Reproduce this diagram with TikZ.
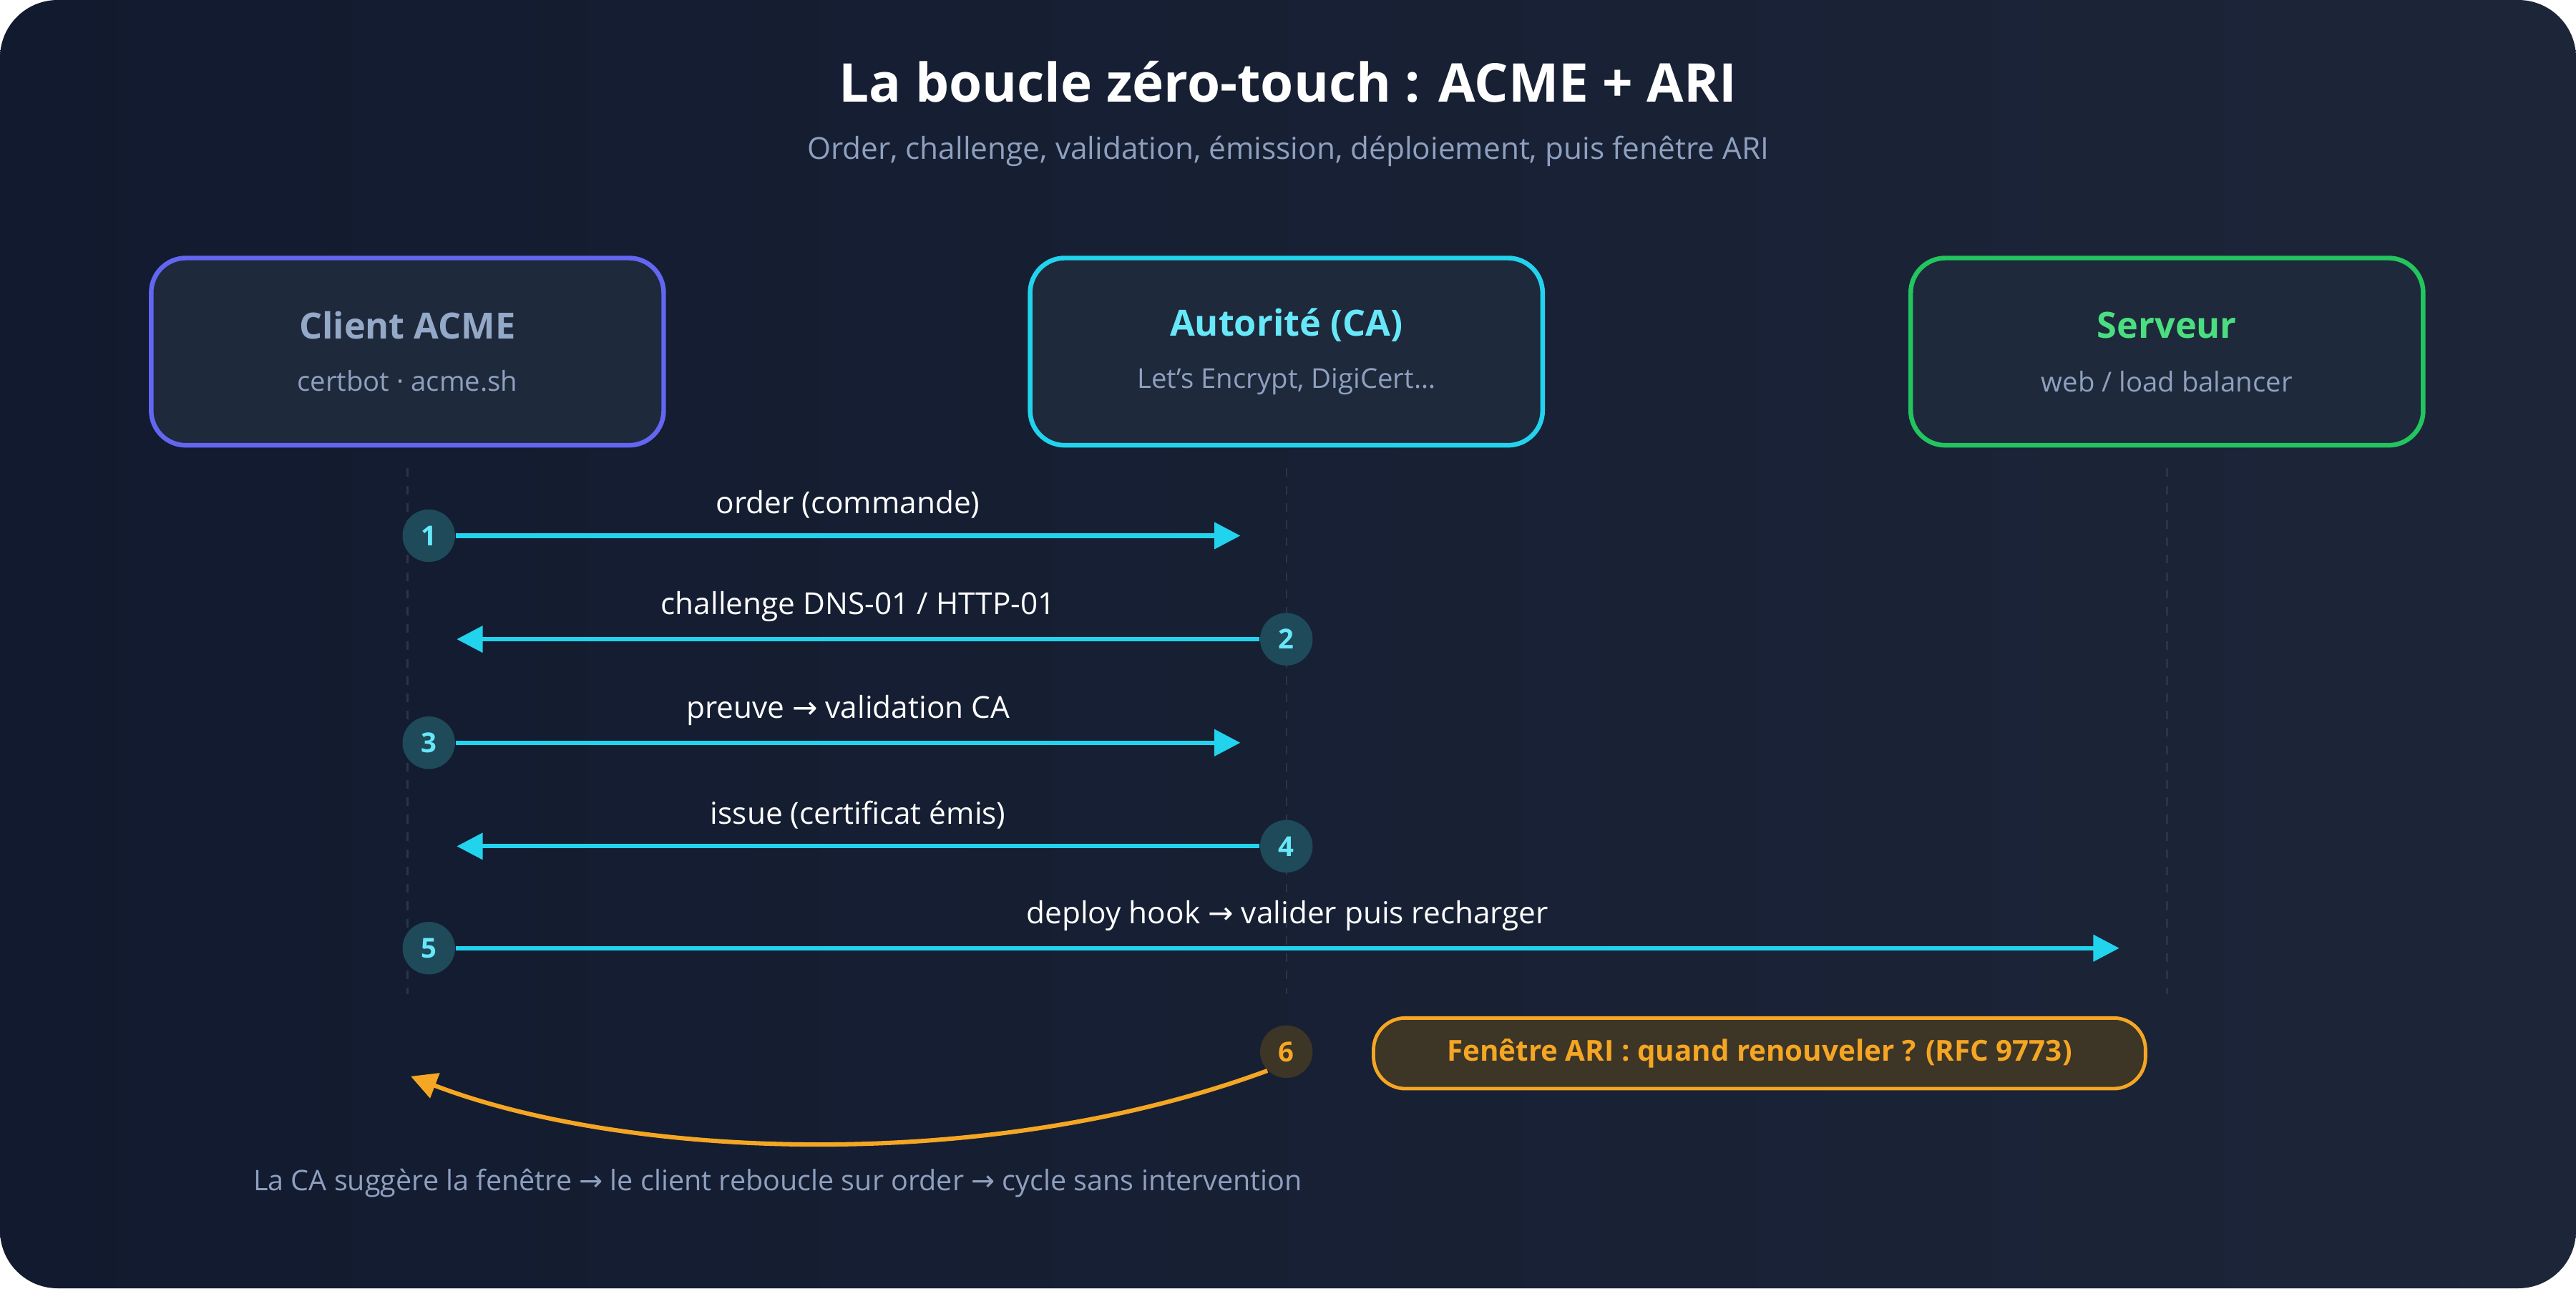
\documentclass[tikz,border=0pt]{standalone}
\usepackage{fontspec}
\setmainfont{Open Sans}
\newfontfamily\symfont{DejaVu Sans}
\usetikzlibrary{positioning,arrows.meta}
\definecolor{bgA}{HTML}{111A2E}
\definecolor{bgB}{HTML}{1D2639}
\definecolor{boxfill}{HTML}{1E293B}
\definecolor{indigo}{HTML}{6366F1}
\definecolor{cyanb}{HTML}{22D3EE}
\definecolor{cyant}{HTML}{67E8F9}
\definecolor{greenb}{HTML}{22C55E}
\definecolor{greent}{HTML}{4ADE80}
\definecolor{slatet}{HTML}{94A8C8}
\definecolor{mutedt}{HTML}{8FA0BF}
\definecolor{orangeb}{HTML}{F5A623}
\definecolor{orangef}{HTML}{3D3526}
\definecolor{stepf}{HTML}{1E4A5A}
\definecolor{linef}{HTML}{2A3548}
\newcommand{\arr}{{\symfont →}}
\tikzset{
  actor/.style={draw=#1, line width=1.6pt, fill=boxfill, rounded corners=12pt,
    minimum width=6.24cm, minimum height=2.28cm},
  msg/.style={draw=cyanb, line width=1.5pt, -{Triangle[length=9pt,width=9pt]}},
  lbl/.style={text=white, font=\fontsize{10.5}{12}\selectfont},
  stepdot/.style={circle, fill=stepf, minimum size=0.64cm, inner sep=0pt,
    text=cyant, font=\fontsize{9.5}{11}\selectfont\bfseries},
  life/.style={draw=linef, dashed, line width=0.6pt}
}
\begin{document}
\begin{tikzpicture}[x=0.02cm,y=-0.02cm]
  \useasboundingbox (0,0) rectangle (1568,784);
  \shade[left color=bgA, right color=bgB, rounded corners=20pt] (0,0) rectangle (1568,784);
  % title
  \node[text=white, font=\fontsize{18.5}{22}\selectfont\bfseries] (title) at (784,50) {La boucle zéro-touch : ACME + ARI};
  \node[text=mutedt, font=\fontsize{10.5}{12}\selectfont] (subtitle) at (784,92) {Order, challenge, validation, émission, déploiement, puis fenêtre ARI};
  % actors
  \node[actor=indigo] (client) at (248,214) {};
  \node[text=slatet, font=\fontsize{12.5}{15}\selectfont\bfseries] at (248,198) {Client ACME};
  \node[text=mutedt, font=\fontsize{9.5}{11}\selectfont] at (248,232) {certbot · acme.sh};
  \node[actor=cyanb] (ca) at (783,214) {};
  \node[text=cyant, font=\fontsize{12.5}{15}\selectfont\bfseries] at (783,198) {Autorité (CA)};
  \node[text=mutedt, font=\fontsize{9.5}{11}\selectfont] at (783,232) {Let's Encrypt, DigiCert…};
  \node[actor=greenb] (srv) at (1319,214) {};
  \node[text=greent, font=\fontsize{12.5}{15}\selectfont\bfseries] at (1319,198) {Serveur};
  \node[text=mutedt, font=\fontsize{9.5}{11}\selectfont] at (1319,232) {web / load balancer};
  % lifelines
  \draw[life] (248,285) -- (248,605);
  \draw[life] (783,285) -- (783,605);
  \draw[life] (1319,285) -- (1319,605);
  % messages
  \node[stepdot] (s1) at (261,326) {1};
  \coordinate (e1) at (755,326);
  \draw[msg] (s1) -- (e1) node[lbl, midway, above=2pt] {order (commande)};
  \node[stepdot] (s2) at (783,389) {2};
  \coordinate (e2) at (278,389);
  \draw[msg] (s2) -- (e2) node[lbl, midway, above=2pt] {challenge DNS-01 / HTTP-01};
  \node[stepdot] (s3) at (261,452) {3};
  \coordinate (e3) at (755,452);
  \draw[msg] (s3) -- (e3) node[lbl, midway, above=2pt] {preuve \arr\ validation CA};
  \node[stepdot] (s4) at (783,515) {4};
  \coordinate (e4) at (278,515);
  \draw[msg] (s4) -- (e4) node[lbl, midway, above=2pt] {issue (certificat émis)};
  \node[stepdot] (s5) at (261,577) {5};
  \coordinate (e5) at (1290,577);
  \draw[msg] (s5) -- (e5) node[lbl, midway, above=2pt] {deploy hook \arr\ valider puis recharger};
  % ARI window
  \node[stepdot, fill=orangef, text=orangeb] (s6) at (783,640) {6};
  \node[draw=orangeb, line width=1.2pt, fill=orangef, rounded corners=11pt,
    minimum width=9.4cm, minimum height=0.86cm, text=orangeb,
    font=\fontsize{10}{12}\selectfont\bfseries] (ari) at (1071,641) {Fenêtre ARI : quand renouveler ? (RFC 9773)};
  \coordinate (back) at (250,655);
  \draw[draw=orangeb, line width=1.5pt, -{Triangle[length=9pt,width=9pt]}]
    (s6.south west) .. controls (600,715) and (380,705) .. (back);
  \node[text=mutedt, font=\fontsize{9.8}{11}\selectfont, anchor=west] (foot) at (148,720)
    {La CA suggère la fenêtre \arr\ le client reboucle sur order \arr\ cycle sans intervention};
\end{tikzpicture}
\end{document}
